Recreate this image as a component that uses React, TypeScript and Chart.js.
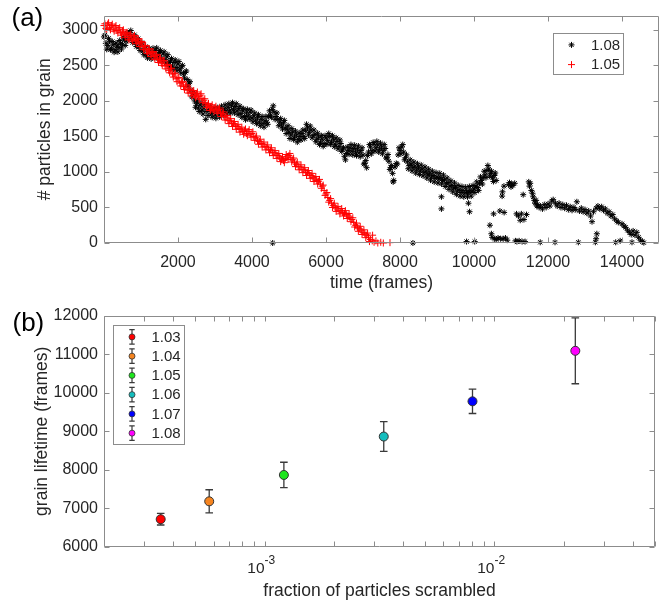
import React, { useEffect, useRef } from 'react';
import { Chart, registerables } from 'chart.js';

Chart.register(...registerables);

const FONT = '"Liberation Sans", Arial, Helvetica, sans-serif';
const TEXT = '#262626';
const AXIS = '#8c8c8c';

// ---------- panel (a) ----------
const topXTicks = [2000, 4000, 6000, 8000, 10000, 12000, 14000];
const topYTicks = [0, 500, 1000, 1500, 2000, 2500, 3000];
const seriesLabelsA = ['1.08', '1.05'];

// lambda = 1.08, main band [frame, particles]
const black108: [number, number][] = [
  [0, 2900], [50, 2810], [100, 2780], [150, 2840], [200, 2740], [250, 2790], [300, 2720], [350, 2770],
  [400, 2750], [450, 2810], [500, 2790], [550, 2860], [600, 2840], [650, 2930], [700, 2960], [750, 2880],
  [800, 2900], [850, 2820], [900, 2850], [950, 2760], [1000, 2800], [1050, 2700], [1100, 2740], [1150, 2650],
  [1200, 2700], [1250, 2630], [1300, 2690], [1350, 2650], [1400, 2710], [1450, 2640], [1500, 2680], [1550, 2600],
  [1600, 2660], [1650, 2580], [1700, 2620], [1750, 2540], [1800, 2560], [1850, 2490], [1900, 2540], [1950, 2470],
  [2000, 2520], [2050, 2450], [2100, 2480], [2150, 2380], [2200, 2400], [2250, 2300], [2300, 2250], [2350, 2150],
  [2400, 2100], [2450, 2000], [2500, 1960], [2550, 1900], [2600, 1940], [2650, 1870], [2700, 1900], [2750, 1740],
  [2780, 1850], [2850, 1880], [2900, 1820], [2950, 1860], [3000, 1800], [3050, 1850], [3100, 1820], [3150, 1870],
  [3200, 1840], [3250, 1890], [3300, 1860], [3350, 1910], [3400, 1870], [3450, 1930], [3500, 1880], [3550, 1920],
  [3600, 1860], [3650, 1890], [3700, 1820], [3750, 1860], [3800, 1780], [3850, 1830], [3900, 1790], [3950, 1840],
  [4000, 1760], [4050, 1790], [4100, 1730], [4150, 1770], [4200, 1700], [4250, 1740], [4300, 1680], [4350, 1720],
  [4400, 1700], [4450, 1780], [4500, 1800], [4550, 1880], [4600, 1840], [4650, 1780], [4700, 1740], [4750, 1700],
  [4800, 1660], [4850, 1690], [4900, 1620], [4950, 1600], [5000, 1560], [5050, 1520], [5100, 1560], [5150, 1490],
  [5200, 1520], [5250, 1460], [5300, 1500], [5350, 1540], [5400, 1500], [5450, 1580], [5500, 1620], [5550, 1560],
  [5600, 1590], [5650, 1510], [5700, 1530], [5750, 1460], [5800, 1490], [5850, 1420], [5900, 1460], [5950, 1400],
  [6000, 1480], [6050, 1440], [6100, 1500], [6150, 1420], [6200, 1460], [6250, 1390], [6300, 1430], [6350, 1360],
  [6400, 1400], [6450, 1320], [6500, 1220], [6550, 1260], [6600, 1300], [6650, 1340], [6700, 1290], [6750, 1330],
  [6800, 1280], [6850, 1320], [6900, 1270], [6950, 1300], [7000, 1240], [7050, 1120], [7100, 1060], [7150, 1280],
  [7200, 1350], [7250, 1300], [7300, 1390], [7350, 1340], [7400, 1380], [7450, 1320], [7500, 1350], [7550, 1300],
  [7600, 1330], [7650, 1200], [7700, 1150], [7750, 1060], [7800, 980], [7830, 880], [7900, 1120], [7950, 1240],
  [8000, 1300], [8050, 1350], [8100, 1280], [8150, 1200], [8200, 1140], [8250, 1090], [8300, 1110], [8350, 1060],
  [8400, 1080], [8450, 1030], [8500, 1060], [8550, 1010], [8600, 1040], [8650, 990], [8700, 1010], [8750, 960],
  [8800, 980], [8850, 930], [8900, 950], [8950, 910], [9000, 930], [9050, 900], [9100, 920], [9150, 880],
  [9200, 890], [9250, 840], [9300, 850], [9350, 800], [9400, 810], [9450, 770], [9500, 780], [9550, 730],
  [9600, 750], [9650, 710], [9700, 740], [9750, 700], [9800, 730], [9850, 710], [9900, 740], [9950, 720],
  [10000, 760], [10050, 800], [10100, 780], [10150, 840], [10200, 880], [10250, 920], [10300, 960], [10350, 1020],
  [10400, 1040], [10450, 980], [10500, 920], [10550, 950], [10600, 880],
];

// lambda = 1.08, upper / lower edges of the noisy band
const black108Edges: [number, number][] = [
  [25, 2925], [75, 2725], [125, 2880], [175, 2720], [225, 2835], [275, 2685], [325, 2815], [375, 2690],
  [425, 2850], [475, 2730], [525, 2895], [575, 2780], [625, 2955], [675, 2875], [725, 2990], [775, 2820],
  [825, 2930], [875, 2765], [925, 2875], [975, 2710], [1025, 2820], [1075, 2650], [1125, 2765], [1175, 2605],
  [1225, 2735], [1275, 2590], [1325, 2740], [1375, 2610], [1425, 2745], [1475, 2590], [1525, 2710], [1575, 2560],
  [1625, 2690], [1675, 2530], [1725, 2650], [1775, 2480], [1825, 2595], [1875, 2445], [1925, 2575], [1975, 2425],
  [2025, 2555], [2075, 2395], [2125, 2500], [2175, 2320], [2225, 2420], [2275, 2205], [2325, 2270], [2375, 2055],
  [2425, 2120], [2475, 1910], [2525, 2000], [2575, 1850], [2625, 1975], [2675, 1815], [2725, 1950], [2815, 1795],
  [2875, 1920], [2925, 1770], [2975, 1900], [3025, 1755], [3075, 1905], [3125, 1775], [3175, 1925], [3225, 1795],
  [3275, 1945], [3325, 1815], [3375, 1960], [3425, 1830], [3475, 1975], [3525, 1830], [3575, 1960], [3625, 1805],
  [3675, 1925], [3725, 1770], [3775, 1890], [3825, 1735], [3875, 1880], [3925, 1745], [3975, 1870], [4025, 1705],
  [4075, 1830], [4125, 1680], [4175, 1805], [4225, 1650], [4275, 1780], [4325, 1630], [4375, 1780], [4425, 1670],
  [4475, 1860], [4525, 1770], [4575, 1930], [4625, 1740], [4675, 1830], [4725, 1650], [4775, 1750], [4825, 1605],
  [4875, 1725], [4925, 1540], [4975, 1650], [5025, 1470], [5075, 1610], [5125, 1455], [5175, 1575], [5225, 1420],
  [5275, 1550], [5325, 1450], [5375, 1590], [5425, 1470], [5475, 1670], [5525, 1520], [5575, 1645], [5625, 1480],
  [5675, 1590], [5725, 1425], [5775, 1545], [5825, 1385], [5875, 1510], [5925, 1360], [5975, 1510], [6025, 1390],
  [6075, 1540], [6125, 1390], [6175, 1510], [6225, 1355], [6275, 1480], [6325, 1325], [6375, 1450], [6425, 1290],
  [6475, 1340], [6525, 1170], [6575, 1350], [6625, 1250], [6675, 1385], [6725, 1240], [6775, 1375], [6825, 1230],
  [6875, 1365], [6925, 1215], [6975, 1340], [7025, 1110], [7075, 1160], [7125, 1230], [7175, 1385], [7225, 1255],
  [7275, 1415], [7325, 1295], [7375, 1430], [7425, 1280], [7475, 1405], [7525, 1255], [7575, 1385], [7625, 1195],
  [7675, 1245], [7725, 1035], [7775, 1090], [7815, 860], [7865, 1070], [7925, 1110], [7975, 1340], [8025, 1255],
  [8075, 1385], [8125, 1170], [8175, 1240], [8225, 1045], [8275, 1170], [8325, 1015], [8375, 1140], [8425, 985],
  [8475, 1115], [8525, 965], [8575, 1095], [8625, 945], [8675, 1070], [8725, 915], [8775, 1040], [8825, 885],
  [8875, 1010], [8925, 860], [8975, 990], [9025, 845], [9075, 980], [9125, 830], [9175, 955], [9225, 795],
  [9275, 915], [9325, 755], [9375, 875], [9425, 720], [9475, 845], [9525, 685], [9575, 810], [9625, 660],
  [9675, 795], [9725, 650], [9775, 785], [9825, 650], [9875, 795], [9925, 660], [9975, 810], [10025, 710],
  [10075, 860], [10125, 740], [10175, 930], [10225, 830], [10275, 1010], [10325, 920], [10375, 1090], [10425, 940],
  [10475, 1010], [10525, 865], [10575, 985],
];

// lambda = 1.08, scattered points and late band
const black108Late: [number, number][] = [
  [4560, 0], [8350, 0], [9120, 650], [9120, 480], [9800, 20], [9850, 560], [9880, 440], [10020, 20],
  [10430, 250], [10470, 130], [10490, 80], [10530, 410], [10560, 60], [10600, 50], [10650, 70], [10700, 450],
  [10720, 60], [10760, 660], [10770, 720], [10790, 60], [10810, 800], [10815, 430], [10850, 70], [10900, 40],
  [10930, 820], [10960, 850], [11000, 790], [11020, 830], [11050, 810], [11100, 840], [11120, 30], [11150, 410],
  [11160, 20], [11200, 380], [11220, 30], [11250, 320], [11280, 410], [11300, 20], [11330, 680], [11350, 330],
  [11380, 20], [11420, 400], [11480, 860], [11500, 800], [11520, 840], [11550, 740], [11580, 700], [11600, 650],
  [11630, 600], [11650, 560], [11680, 600], [11700, 520], [11720, 540], [11760, 500], [11790, 10], [11800, 520],
  [11850, 480], [11900, 540], [11950, 500], [12000, 550], [12050, 520], [12100, 590], [12140, 610], [12190, 10],
  [12200, 560], [12250, 520], [12300, 560], [12350, 500], [12400, 540], [12450, 490], [12500, 530], [12550, 470],
  [12600, 510], [12650, 460], [12700, 500], [12750, 470], [12780, 580], [12820, 10], [12850, 450], [12900, 490],
  [12950, 440], [13000, 470], [13050, 420], [13100, 450], [13150, 380], [13190, 300], [13230, 440], [13280, 10],
  [13300, 60], [13320, 130], [13300, 490], [13350, 520], [13400, 480], [13450, 510], [13500, 460], [13550, 480],
  [13600, 420], [13650, 440], [13700, 380], [13750, 400], [13800, 340], [13830, 10], [13860, 310], [13900, 290],
  [13950, 30], [14000, 270], [14050, 240], [14100, 220], [14150, 180], [14200, 150], [14250, 120], [14270, 10],
  [14300, 170], [14350, 110], [14400, 150], [14450, 80], [14500, 40], [14550, 20], [14590, 5],
];

// lambda = 1.05 [frame, particles]
const red105: [number, number][] = [
  [0, 3060], [50, 3020], [100, 3080], [150, 3030], [200, 3060], [250, 3010], [300, 3040], [350, 2990],
  [400, 3010], [450, 2960], [500, 2980], [550, 2930], [600, 2950], [650, 2890], [700, 2920], [750, 2870],
  [800, 2900], [850, 2850], [900, 2860], [950, 2800], [1000, 2820], [1050, 2760], [1100, 2770], [1150, 2700],
  [1200, 2720], [1250, 2660], [1300, 2680], [1350, 2620], [1400, 2640], [1450, 2580], [1500, 2590], [1550, 2530],
  [1600, 2560], [1650, 2490], [1700, 2500], [1750, 2430], [1800, 2450], [1850, 2380], [1900, 2380], [1950, 2310],
  [2000, 2320], [2050, 2250], [2100, 2260], [2150, 2200], [2200, 2210], [2250, 2150], [2300, 2160], [2350, 2110],
  [2400, 2120], [2450, 2080], [2500, 2100], [2550, 2060], [2600, 2080], [2650, 2030], [2700, 2010], [2750, 1960],
  [2800, 1940], [2850, 1900], [2900, 1920], [2950, 1880], [3000, 1900], [3050, 1860], [3100, 1880], [3150, 1830],
  [3200, 1820], [3250, 1780], [3300, 1770], [3350, 1730], [3400, 1720], [3450, 1690], [3500, 1680], [3550, 1650],
  [3600, 1640], [3650, 1610], [3700, 1600], [3750, 1570], [3800, 1580], [3850, 1540], [3900, 1570], [3950, 1530],
  [4000, 1540], [4050, 1500], [4100, 1480], [4150, 1440], [4200, 1430], [4250, 1400], [4300, 1390], [4350, 1360],
  [4400, 1350], [4450, 1320], [4500, 1310], [4550, 1280], [4600, 1270], [4650, 1240], [4700, 1230], [4750, 1200],
  [4800, 1180], [4850, 1160], [4900, 1190], [4950, 1210], [5000, 1230], [5050, 1200], [5100, 1170], [5150, 1130],
  [5200, 1110], [5250, 1080], [5300, 1070], [5350, 1040], [5400, 1030], [5450, 1000], [5500, 990], [5550, 960],
  [5600, 950], [5650, 920], [5700, 900], [5750, 880], [5800, 870], [5850, 830], [5900, 800], [5950, 740],
  [6000, 690], [6050, 640], [6100, 600], [6150, 560], [6200, 530], [6250, 500], [6300, 480], [6350, 460],
  [6400, 450], [6450, 430], [6500, 420], [6550, 400], [6600, 380], [6650, 360], [6700, 330], [6750, 290],
  [6800, 250], [6850, 220], [6900, 200], [6950, 180], [7000, 150], [7050, 130], [7100, 110], [7150, 80],
  [7200, 50], [7250, 30], [7260, 110], [7300, 10], [7350, 30], [7400, 0], [7480, 10], [7550, 0], [7730, 5],
];

// lambda = 1.05, upper / lower edges of the noisy band
const red105Edges: [number, number][] = [
  [25, 3085], [75, 3005], [125, 3100], [175, 3000], [225, 3080], [275, 2980], [325, 3060], [375, 2955],
  [425, 3030], [475, 2925], [525, 3000], [575, 2895], [625, 2965], [675, 2860], [725, 2940], [775, 2840],
  [825, 2920], [875, 2810], [925, 2875], [975, 2765], [1025, 2835], [1075, 2720], [1125, 2780], [1175, 2665],
  [1225, 2735], [1275, 2625], [1325, 2695], [1375, 2585], [1425, 2655], [1475, 2540], [1525, 2605], [1575, 2500],
  [1625, 2570], [1675, 2450], [1725, 2510], [1775, 2395], [1825, 2460], [1875, 2335], [1925, 2390], [1975, 2270],
  [2025, 2330], [2075, 2210], [2125, 2275], [2175, 2160], [2225, 2225], [2275, 2110], [2325, 2180], [2375, 2070],
  [2425, 2145], [2475, 2045], [2525, 2125], [2575, 2025], [2625, 2100], [2675, 1975], [2725, 2030], [2775, 1905],
  [2825, 1965], [2875, 1865], [2925, 1945], [2975, 1845], [3025, 1925], [3075, 1825], [3125, 1900], [3175, 1780],
  [3225, 1845], [3275, 1730], [3325, 1795], [3375, 1680], [3425, 1750], [3475, 1640], [3525, 1710], [3575, 1600],
  [3625, 1670], [3675, 1560], [3725, 1630], [3775, 1530], [3825, 1605], [3875, 1510], [3925, 1595], [3975, 1490],
  [4025, 1565], [4075, 1445], [4125, 1505], [4175, 1390], [4225, 1460], [4275, 1350], [4325, 1420], [4375, 1310],
  [4425, 1380], [4475, 1270], [4525, 1340], [4575, 1230], [4625, 1300], [4675, 1190], [4725, 1260], [4775, 1145],
  [4825, 1215], [4875, 1130], [4925, 1245], [4975, 1175], [5025, 1260], [5075, 1140], [5125, 1195], [5175, 1075],
  [5225, 1140], [5275, 1030], [5325, 1100], [5375, 990], [5425, 1060], [5475, 950], [5525, 1020], [5575, 910],
  [5625, 980], [5675, 865], [5725, 935], [5775, 830], [5825, 895], [5875, 770], [5925, 815], [5975, 670],
  [6025, 710], [6075, 575], [6125, 625], [6175, 500], [6225, 560], [6275, 445], [6325, 515], [6375, 410],
  [6425, 485], [6475, 380], [6525, 455], [6575, 345], [6625, 415], [6675, 300], [6725, 355], [6775, 225],
  [6825, 280], [6875, 165], [6925, 235], [6975, 120], [7025, 185], [7075, 75], [7125, 140], [7175, 20],
];

// ---------- panel (b) ----------
const bottomYTicks = [6000, 7000, 8000, 9000, 10000, 11000, 12000];
const logTicks = [
  2e-4, 3e-4, 4e-4, 5e-4, 6e-4, 7e-4, 8e-4, 9e-4,
  1e-3, 2e-3, 3e-3, 4e-3, 5e-3, 6e-3, 7e-3, 8e-3, 9e-3,
  1e-2, 2e-2, 3e-2, 4e-2, 5e-2,
];
const logMajorTicks = [1e-3, 1e-2];
const logMajorExponents = ['-3', '-2'];
const lambdas = ['1.03', '1.04', '1.05', '1.06', '1.07', '1.08'];
const fracScrambled = [3.53e-4, 5.74e-4, 1.213e-3, 3.3e-3, 8.03e-3, 2.25e-2];
const lifetime = [6720, 7184, 7868, 8864, 9777, 11087];
const lifetimeErr = [150, 300, 330, 385, 316, 854];
const lambdaColors = ['#ff0000', '#f5841f', '#1ee61e', '#14bdbd', '#0000ff', '#ff00ff'];

// ---------- helpers ----------
function drawStar(ctx: CanvasRenderingContext2D, x: number, y: number, r: number) {
  const d = r * Math.SQRT1_2;
  ctx.moveTo(x - r, y); ctx.lineTo(x + r, y);
  ctx.moveTo(x, y - r); ctx.lineTo(x, y + r);
  ctx.moveTo(x - d, y - d); ctx.lineTo(x + d, y + d);
  ctx.moveTo(x - d, y + d); ctx.lineTo(x + d, y - d);
}
function drawPlus(ctx: CanvasRenderingContext2D, x: number, y: number, r: number) {
  ctx.moveTo(x - r, y); ctx.lineTo(x + r, y);
  ctx.moveTo(x, y - r); ctx.lineTo(x, y + r);
}

const framePlugin = {
  id: 'frame',
  afterDatasetsDraw(chart: any) {
    const { ctx, chartArea: a } = chart;
    const xs = chart.scales.x;
    const ys = chart.scales.y;
    const tl = 5;
    ctx.save();
    ctx.strokeStyle = AXIS;
    ctx.lineWidth = 1;
    const L = Math.round(a.left) + 0.5;
    const R = Math.round(a.right) - 0.5;
    const T = Math.round(a.top) + 0.5;
    const B = Math.round(a.bottom) - 0.5;
    ctx.beginPath();
    ctx.rect(L, T, R - L, B - T);
    for (const t of xs.ticks) {
      const px = Math.round(xs.getPixelForValue(t.value)) + 0.5;
      ctx.moveTo(px, B); ctx.lineTo(px, B - tl);
      ctx.moveTo(px, T); ctx.lineTo(px, T + tl);
    }
    for (const t of ys.ticks) {
      const py = Math.round(ys.getPixelForValue(t.value)) + 0.5;
      ctx.moveTo(L, py); ctx.lineTo(L + tl, py);
      ctx.moveTo(R, py); ctx.lineTo(R - tl, py);
    }
    ctx.stroke();
    ctx.restore();
  },
};

const panelLabelPlugin = {
  id: 'panelLabel',
  afterDraw(chart: any, _args: any, opts: any) {
    const { ctx } = chart;
    ctx.save();
    ctx.fillStyle = '#000';
    ctx.font = `26px ${FONT}`;
    ctx.textBaseline = 'alphabetic';
    ctx.textAlign = 'left';
    ctx.fillText(opts.text, opts.x, opts.y);
    ctx.restore();
  },
};

// power-of-ten labels of the log axis: "10" with a raised exponent
const logLabelPlugin = {
  id: 'logLabels',
  afterDraw(chart: any) {
    const { ctx, chartArea: a } = chart;
    const xs = chart.scales.x;
    ctx.save();
    ctx.fillStyle = TEXT;
    ctx.textBaseline = 'middle';
    logMajorTicks.forEach((v, i) => {
      const x = xs.getPixelForValue(v);
      ctx.font = `15.5px ${FONT}`;
      ctx.textAlign = 'right';
      ctx.fillText('10', x, a.bottom + 21.5);
      ctx.font = `12px ${FONT}`;
      ctx.textAlign = 'left';
      ctx.fillText(logMajorExponents[i], x, a.bottom + 13.5);
    });
    ctx.restore();
  },
};

const legendAPlugin = {
  id: 'legendA',
  afterDraw(chart: any) {
    const { ctx, chartArea: a } = chart;
    const right = a.right - 36;
    const left = right - 70;
    const top = a.top + 17.5;
    const h = 40.5;
    ctx.save();
    ctx.fillStyle = '#fff';
    ctx.fillRect(left, top, right - left, h);
    ctx.strokeStyle = AXIS;
    ctx.lineWidth = 1;
    ctx.strokeRect(Math.round(left) + 0.5, Math.round(top) + 0.5, Math.round(right - left), Math.round(h));
    const rows = [top + 11.8, top + 31.5];
    ctx.font = `15px ${FONT}`;
    ctx.textBaseline = 'middle';
    ctx.textAlign = 'left';
    seriesLabelsA.forEach((lab, i) => {
      const y = rows[i];
      ctx.beginPath();
      ctx.strokeStyle = i === 0 ? '#000' : '#ff0000';
      if (i === 0) drawStar(ctx, left + 18.5, y, 3); else drawPlus(ctx, left + 18.5, y, 3.5);
      ctx.stroke();
      ctx.fillStyle = TEXT;
      ctx.fillText(lab, left + 38, y + 0.5);
    });
    ctx.restore();
  },
};

const errorBarPlugin = {
  id: 'errorBars',
  beforeDatasetsDraw(chart: any) {
    const { ctx } = chart;
    const xs = chart.scales.x;
    const ys = chart.scales.y;
    ctx.save();
    ctx.strokeStyle = '#3a3a3a';
    ctx.lineWidth = 1.3;
    ctx.beginPath();
    fracScrambled.forEach((f, i) => {
      const x = xs.getPixelForValue(f);
      const y1 = ys.getPixelForValue(lifetime[i] + lifetimeErr[i]);
      const y2 = ys.getPixelForValue(lifetime[i] - lifetimeErr[i]);
      ctx.moveTo(x, y1); ctx.lineTo(x, y2);
      ctx.moveTo(x - 3.8, y1); ctx.lineTo(x + 3.8, y1);
      ctx.moveTo(x - 3.8, y2); ctx.lineTo(x + 3.8, y2);
    });
    ctx.stroke();
    ctx.restore();
  },
};

const legendBPlugin = {
  id: 'legendB',
  afterDraw(chart: any) {
    const { ctx, chartArea: a } = chart;
    const left = a.left + 9;
    const top = a.top + 9;
    const w = 71;
    const h = 118.5;
    ctx.save();
    ctx.fillStyle = '#fff';
    ctx.fillRect(left, top, w, h);
    ctx.strokeStyle = AXIS;
    ctx.lineWidth = 1;
    ctx.strokeRect(Math.round(left) + 0.5, Math.round(top) + 0.5, w, Math.round(h));
    ctx.font = `15px ${FONT}`;
    ctx.textBaseline = 'middle';
    ctx.textAlign = 'left';
    lambdas.forEach((lab, i) => {
      const y = top + 12.3 + i * 19.25;
      const x = left + 19;
      ctx.beginPath();
      ctx.strokeStyle = '#3a3a3a';
      ctx.lineWidth = 1.2;
      ctx.moveTo(x, y - 7.3); ctx.lineTo(x, y + 7.3);
      ctx.moveTo(x - 2.7, y - 7.3); ctx.lineTo(x + 2.7, y - 7.3);
      ctx.moveTo(x - 2.7, y + 7.3); ctx.lineTo(x + 2.7, y + 7.3);
      ctx.stroke();
      ctx.beginPath();
      ctx.arc(x, y, 3, 0, Math.PI * 2);
      ctx.fillStyle = lambdaColors[i];
      ctx.fill();
      ctx.strokeStyle = '#333';
      ctx.lineWidth = 0.8;
      ctx.stroke();
      ctx.fillStyle = TEXT;
      ctx.fillText(lab, left + 38.5, y + 0.5);
    });
    ctx.restore();
  },
};

const tickFont = { family: FONT, size: 16 };
const titleFont = { family: FONT, size: 17.5 };

function starSet(label: string, pts: [number, number][]) {
  return {
    label,
    data: pts.map(([x, y]) => ({ x, y })),
    pointStyle: 'star',
    pointRadius: 3,
    borderColor: '#000',
    backgroundColor: 'rgba(0,0,0,0)',
    borderWidth: 1,
    order: 1,
    clip: false,
  };
}

function plusSet(label: string, pts: [number, number][]) {
  return {
    label,
    data: pts.map(([x, y]) => ({ x, y })),
    pointStyle: 'cross',
    pointRadius: 3.5,
    borderColor: '#ff0000',
    backgroundColor: 'rgba(0,0,0,0)',
    borderWidth: 1,
    order: 0,
    clip: false,
  };
}

function ChartA() {
  const ref = useRef<HTMLCanvasElement | null>(null);
  useEffect(() => {
    if (!ref.current) return;
    const chart = new Chart(ref.current, {
      type: 'scatter',
      data: {
        datasets: [
          plusSet(seriesLabelsA[1], red105),
          plusSet(seriesLabelsA[1] + ' edges', red105Edges),
          starSet(seriesLabelsA[0], black108),
          starSet(seriesLabelsA[0] + ' edges', black108Edges),
          starSet(seriesLabelsA[0] + ' late', black108Late),
        ],
      } as any,
      options: {
        responsive: false,
        animation: false,
        events: [],
        layout: { padding: { left: 0, right: 7, top: 10, bottom: 0 } },
        plugins: {
          legend: { display: false },
          tooltip: { enabled: false },
          panelLabel: { text: '(a)', x: 11.5, y: 26.2 },
        } as any,
        scales: {
          x: {
            type: 'linear',
            min: 1,
            max: 15000,
            afterBuildTicks: (s: any) => { s.ticks = topXTicks.map((v) => ({ value: v })); },
            afterFit: (s: any) => { s.height = 57; },
            grid: { display: false, drawTicks: false },
            border: { display: false },
            ticks: { font: tickFont, color: TEXT, padding: 10, maxRotation: 0, autoSkip: false, callback: (v: any) => String(v) },
            title: { display: true, text: 'time (frames)', font: titleFont, color: TEXT, padding: { top: 0, bottom: 6.5 } },
          },
          y: {
            type: 'linear',
            min: 0,
            max: 3200,
            afterBuildTicks: (s: any) => { s.ticks = topYTicks.map((v) => ({ value: v })); },
            afterFit: (s: any) => { s.width = 104; },
            grid: { display: false, drawTicks: false },
            border: { display: false },
            ticks: { font: tickFont, color: TEXT, padding: 6, autoSkip: false, callback: (v: any) => String(v) },
            title: { display: true, text: '# particles in grain', font: titleFont, color: TEXT, padding: { top: 34.5, bottom: 0 } },
          },
        },
      } as any,
      plugins: [framePlugin, legendAPlugin, panelLabelPlugin],
    });
    return () => chart.destroy();
  }, []);
  return <canvas ref={ref} width={666} height={300} style={{ position: 'absolute', left: 0, top: 0 }} />;
}

function ChartB() {
  const ref = useRef<HTMLCanvasElement | null>(null);
  useEffect(() => {
    if (!ref.current) return;
    const chart = new Chart(ref.current, {
      type: 'scatter',
      data: {
        datasets: lambdas.map((lab, i) => ({
          label: lab,
          data: [{ x: fracScrambled[i], y: lifetime[i] }],
          pointStyle: 'circle',
          pointRadius: 4.5,
          backgroundColor: lambdaColors[i],
          borderColor: '#333',
          borderWidth: 1,
          clip: false,
        })),
      } as any,
      options: {
        responsive: false,
        animation: false,
        events: [],
        layout: { padding: { left: 0, right: 7, top: 10, bottom: 0 } },
        plugins: {
          legend: { display: false },
          tooltip: { enabled: false },
          panelLabel: { text: '(b)', x: 12.5, y: 31.2 },
        } as any,
        scales: {
          x: {
            type: 'logarithmic',
            min: 2e-4,
            max: 5e-2,
            afterBuildTicks: (s: any) => { s.ticks = logTicks.map((v) => ({ value: v })); },
            afterFit: (s: any) => { s.height = 55; },
            grid: { display: false, drawTicks: false },
            border: { display: false },
            ticks: { font: tickFont, color: TEXT, padding: 11, maxRotation: 0, autoSkip: false, callback: () => '' },
            title: { display: true, text: 'fraction of particles scrambled', font: titleFont, color: TEXT, padding: { top: 0, bottom: 0 } },
          },
          y: {
            type: 'linear',
            min: 6000,
            max: 12000,
            afterBuildTicks: (s: any) => { s.ticks = bottomYTicks.map((v) => ({ value: v })); },
            afterFit: (s: any) => { s.width = 104; },
            grid: { display: false, drawTicks: false },
            border: { display: false },
            ticks: { font: tickFont, color: TEXT, padding: 6, autoSkip: false, callback: (v: any) => String(v) },
            title: { display: true, text: 'grain lifetime (frames)', font: titleFont, color: TEXT, padding: { top: 32, bottom: 0 } },
          },
        },
      } as any,
      plugins: [errorBarPlugin, framePlugin, legendBPlugin, logLabelPlugin, panelLabelPlugin],
    });
    return () => chart.destroy();
  }, []);
  return <canvas ref={ref} width={666} height={302} style={{ position: 'absolute', left: 0, top: 300 }} />;
}

export default function App() {
  return (
    <div style={{ position: 'absolute', left: 0, top: 0, width: 666, height: 602, background: '#fff', overflow: 'hidden' }}>
      <ChartA />
      <ChartB />
    </div>
  );
}
